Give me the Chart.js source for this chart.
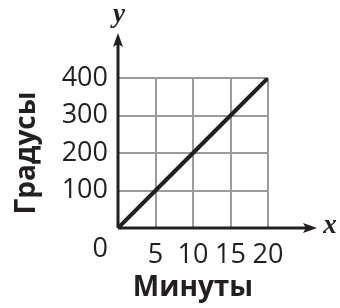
<!DOCTYPE html>
<html>
<head>
<meta charset="utf-8">
<script src="https://cdn.jsdelivr.net/npm/chart.js@4.4.1/dist/chart.umd.min.js"></script>
<style>
  html, body { margin: 0; padding: 0; background: #fff; }
  #wrap { width: 340px; height: 308px; position: relative; }
</style>
</head>
<body>
<div id="wrap"><canvas id="chart"></canvas></div>
<script>
// data
const minutes = [0, 5, 10, 15, 20];
const degrees = [0, 100, 200, 300, 400];
const xTickValues = [0, 5, 10, 15, 20];
const yTickValues = [0, 100, 200, 300, 400];

const INK = '#231f20';
const GRID = '#9b9b9b';
const tickFont = { family: 'Open Sans', size: 27 };
const titleFont = { family: 'Open Sans', size: 28, weight: 'bold' };

// axes with arrowheads, the x / y letters and the corner "0"
const arrowAxes = {
    id: 'arrowAxes',
    beforeDatasetsDraw(chart) {
        const { ctx, chartArea } = chart;
        const x0 = chart.scales.x.getPixelForValue(0);
        const y0 = chart.scales.y.getPixelForValue(0);
        const yTip = 33, xTip = 317;
        ctx.save();
        ctx.strokeStyle = INK;
        ctx.fillStyle = INK;
        ctx.lineWidth = 3;
        ctx.beginPath();
        ctx.moveTo(x0, y0);
        ctx.lineTo(x0, yTip + 8);
        ctx.moveTo(x0, y0);
        ctx.lineTo(xTip - 8, y0);
        ctx.stroke();

        // y arrow
        ctx.beginPath();
        ctx.moveTo(x0, yTip);
        ctx.lineTo(x0 + 5, yTip + 14);
        ctx.lineTo(x0, yTip + 11);
        ctx.lineTo(x0 - 5, yTip + 14);
        ctx.closePath();
        ctx.fill();
        // x arrow
        ctx.beginPath();
        ctx.moveTo(xTip, y0);
        ctx.lineTo(xTip - 14, y0 - 5);
        ctx.lineTo(xTip - 11, y0);
        ctx.lineTo(xTip - 14, y0 + 5);
        ctx.closePath();
        ctx.fill();

        ctx.font = 'italic bold 27px "Liberation Serif", "DejaVu Serif", serif';
        ctx.textAlign = 'center';
        ctx.textBaseline = 'middle';
        ctx.fillText('y', x0 + 1, 15);
        ctx.fillText('x', 330, y0 - 2);

        ctx.font = '27px "Open Sans"';
        ctx.textAlign = 'right';
        ctx.fillText('0', chartArea.left - 10, y0 + 21);
        ctx.restore();
    }
};

new Chart(document.getElementById('chart'), {
    type: 'line',
    data: {
        datasets: [{
            data: minutes.map((m, i) => ({ x: m, y: degrees[i] })),
            borderColor: INK,
            borderWidth: 4,
            pointRadius: 0,
            tension: 0
        }]
    },
    options: {
        responsive: true,
        maintainAspectRatio: false,
        animation: false,
        devicePixelRatio: 1,
        layout: { padding: { top: 78, right: 72, left: 0, bottom: 0 } },
        plugins: { legend: { display: false }, tooltip: { enabled: false } },
        scales: {
            x: {
                type: 'linear',
                min: 0,
                max: 20,
                afterBuildTicks: (s) => { s.ticks = xTickValues.map(v => ({ value: v })); },
                afterFit: (s) => { s.height = 80; },
                border: { display: false },
                grid: { color: GRID, lineWidth: 2, drawTicks: false },
                ticks: {
                    color: INK,
                    font: tickFont,
                    padding: 11,
                    maxRotation: 0,
                    autoSkip: false,
                    callback: (v) => v === 0 ? '' : v
                },
                title: {
                    display: true,
                    text: 'Минуты',
                    color: INK,
                    font: titleFont,
                    padding: { top: 0, bottom: 3 }
                }
            },
            y: {
                type: 'linear',
                min: 0,
                max: 400,
                afterBuildTicks: (s) => { s.ticks = yTickValues.map(v => ({ value: v })); },
                afterFit: (s) => { s.width = 118; },
                border: { display: false },
                grid: { color: GRID, lineWidth: 2, drawTicks: false },
                ticks: {
                    color: INK,
                    font: tickFont,
                    padding: 10,
                    autoSkip: false,
                    callback: (v) => v === 0 ? '' : v
                },
                title: {
                    display: true,
                    text: 'Градусы',
                    color: INK,
                    font: titleFont,
                    padding: { top: 10, bottom: 0 }
                }
            }
        }
    },
    plugins: [arrowAxes]
});
</script>
</body>
</html>
